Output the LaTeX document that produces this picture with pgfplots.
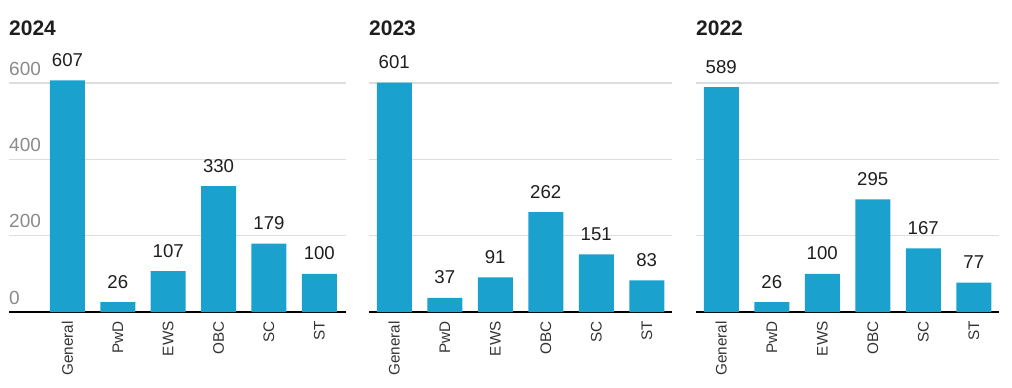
\documentclass[border=0pt]{standalone}
\usepackage{pgfplots}
\pgfplotsset{compat=1.18}
\usepackage{fontspec}
\setmainfont{Liberation Sans}
\definecolor{barc}{HTML}{1BA1CD}
\definecolor{gridc}{HTML}{DDDDDD}
\definecolor{tickc}{HTML}{8A8A8A}
\definecolor{valc}{HTML}{1E1E1E}
\definecolor{labc}{HTML}{333333}
\pgfplotsset{
  panel/.style={
    scale only axis, height=248.08pt, ymin=0, ymax=650,
    clip=false,
    /pgf/number format/assume math mode=true,
    ytick={0,200,400,600},
    ymajorgrids, grid style={draw=gridc, line width=1.3pt},
    axis x line*=bottom, axis y line*=left,
    y axis line style={draw=none},
    x axis line style={-, draw=black, line width=1.1pt},
    major tick length=0pt,
    xtick={0,1,2,3,4,5},
    xticklabels={General,PwD,EWS,OBC,SC,ST},
    xticklabel style={rotate=90, anchor=east, inner sep=0pt, text=labc,
      font=\fontsize{15.3}{15}\selectfont},
    xticklabel shift=9pt,
    title style={at={(0,1)}, anchor=base west, inner sep=0pt, yshift=22pt,
      font=\bfseries\fontsize{21}{21}\selectfont, text=valc},
    ybar, bar width=35pt,
    nodes near coords,
    every node near coord/.append style={font=\fontsize{18.6}{18}\selectfont,
      text=valc, anchor=south, inner sep=0pt, yshift=13.5pt},
  },
  barstyle/.style={fill=barc, draw=none},
}
\begin{document}
\begin{tikzpicture}[x=1pt,y=1pt]
\useasboundingbox (0,0) rectangle (1012,388);
\begin{axis}[panel, at={(9pt,76pt)}, anchor=south west, width=337pt,
  xmin=-1.16, xmax=5.53, title={2024},
  yticklabel style={anchor=base west, inner sep=0pt, yshift=8pt, text=tickc,
    font=\fontsize{19}{19}\selectfont}]
\addplot[barstyle] coordinates {(0,607) (1,26) (2,107) (3,330) (4,179) (5,100)};
\end{axis}
\begin{axis}[panel, at={(369pt,76pt)}, anchor=south west, width=303pt,
  xmin=-0.5, xmax=5.5, title={2023}, yticklabels={}]
\addplot[barstyle] coordinates {(0,601) (1,37) (2,91) (3,262) (4,151) (5,83)};
\end{axis}
\begin{axis}[panel, at={(696pt,76pt)}, anchor=south west, width=303pt,
  xmin=-0.5, xmax=5.5, title={2022}, yticklabels={}]
\addplot[barstyle] coordinates {(0,589) (1,26) (2,100) (3,295) (4,167) (5,77)};
\end{axis}
\end{tikzpicture}
\end{document}
